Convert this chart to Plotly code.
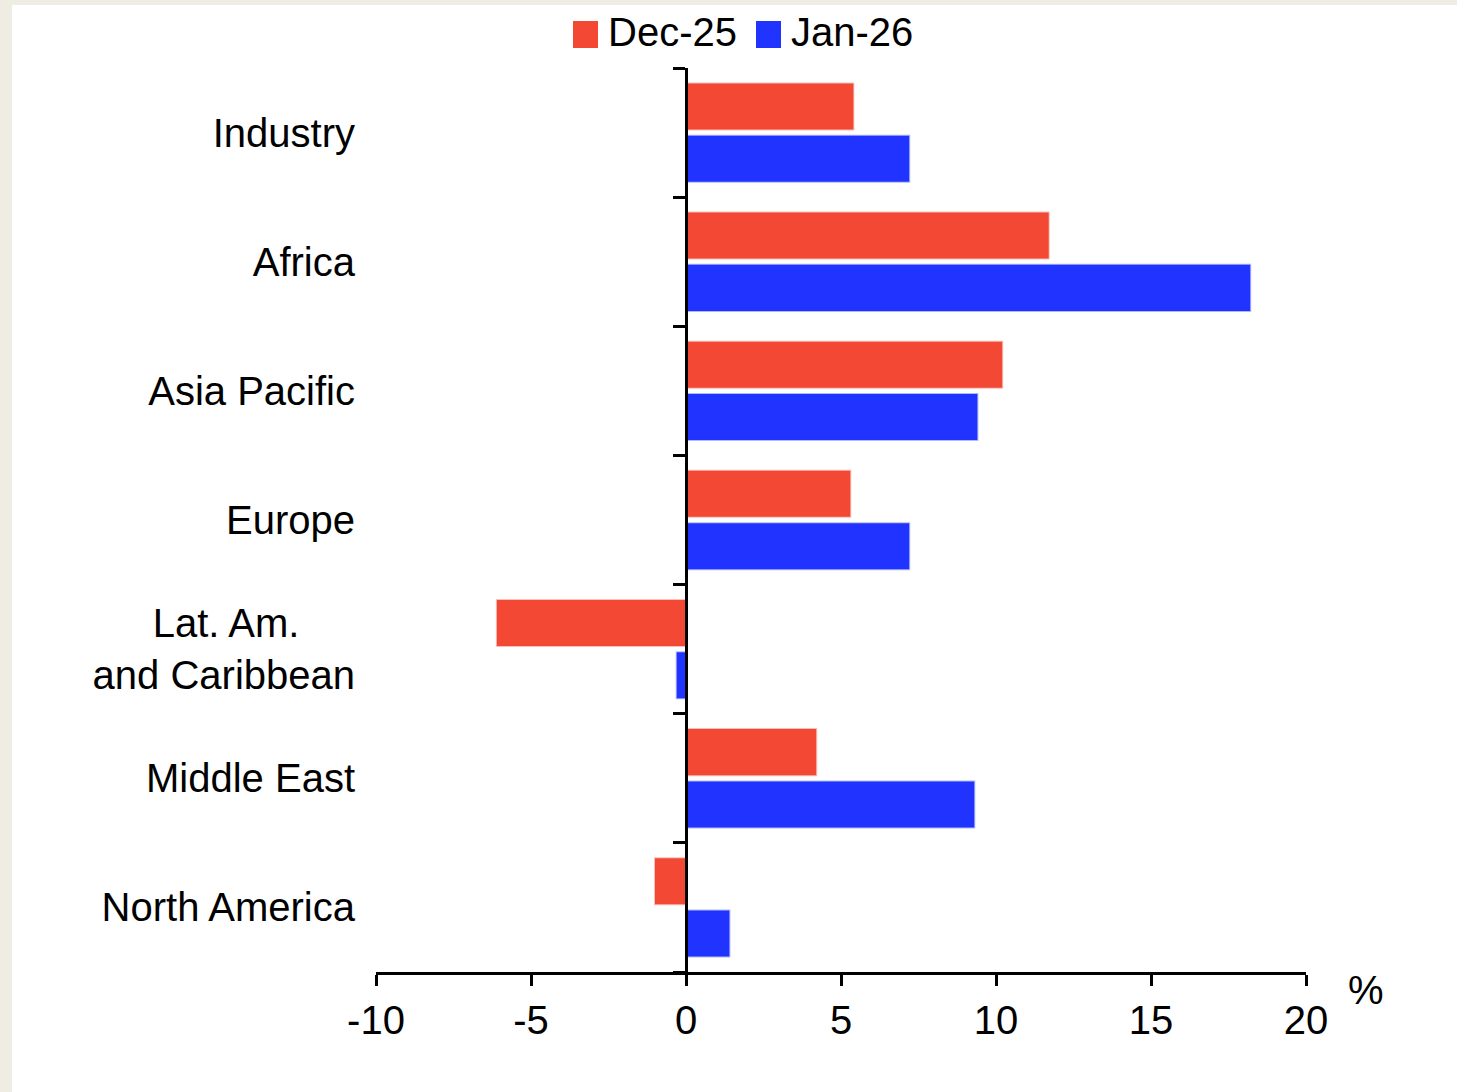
import plotly.graph_objects as go

categories = ["Industry", "Africa", "Asia Pacific", "Europe",
              "Lat. Am.\u00a0\u00a0\u00a0\u00a0\u00a0<br>and Caribbean", "Middle East", "North America"]
dec25 = [5.4, 11.7, 10.2, 5.3, -6.1, 4.2, -1.0]
jan26 = [7.2, 18.2, 9.4, 7.2, -0.3, 9.3, 1.4]
series_names = ["Dec-25", "Jan-26"]
x_ticks = [-10, -5, 0, 5, 10, 15, 20]
x_tick_text = ["-10", "-5", "0", "5", "10", "15", "20"]

RED = "#F24834"
BLUE = "#2033FF"
FONT = "Liberation Sans, Arial, sans-serif"

W, H = 1457, 1092
L, R, T, B = 376, 151, 68, 120
pw, ph = W - L - R, H - T - B


def px_x(px):
    return (px - L) / pw


def px_y(py):
    return (T + ph - py) / ph


fig = go.Figure()
fig.add_trace(go.Bar(y=categories, x=dec25, name=series_names[0], orientation="h",
                     marker=dict(color=RED, line=dict(color="rgba(242,72,52,0.35)", width=2)),
                     showlegend=False))
fig.add_trace(go.Bar(y=categories, x=jan26, name=series_names[1], orientation="h",
                     marker=dict(color=BLUE, line=dict(color="rgba(32,51,255,0.35)", width=2)),
                     showlegend=False))
# helper trace so the zero-line axis (y2) is drawn
fig.add_trace(go.Scatter(x=[0], y=[0], yaxis="y2", mode="markers",
                         marker=dict(opacity=0), showlegend=False, hoverinfo="skip"))

n = len(categories)
boundaries = [i - 0.5 for i in range(n + 1)]

fig.update_layout(
    width=W, height=H,
    margin=dict(l=L, r=R, t=T, b=B, autoexpand=False),
    paper_bgcolor="#EFECE4",
    plot_bgcolor="rgba(0,0,0,0)",
    font=dict(family=FONT, size=40, color="#000000"),
    barmode="group", bargap=0.19, bargroupgap=0.12,
    xaxis=dict(range=[-10, 20], tickvals=x_ticks, ticktext=x_tick_text,
               showgrid=False, zeroline=False,
               showline=True, linecolor="black", linewidth=3,
               ticks="outside", ticklen=11, tickwidth=3, tickcolor="black",
               tickfont=dict(size=40)),
    yaxis=dict(type="category", autorange="reversed", showgrid=False, zeroline=False,
               showline=False, ticks="", ticklabelstandoff=20,
               tickfont=dict(size=40)),
    yaxis2=dict(overlaying="y", anchor="free", position=1 / 3, side="left",
                range=[n - 0.5, -0.5], tickvals=boundaries, showticklabels=False,
                showline=True, linecolor="black", linewidth=3,
                ticks="outside", ticklen=12, tickwidth=3, tickcolor="black",
                showgrid=False, zeroline=False),
    showlegend=False,
)

# white page area (beige border on top and left)
fig.add_shape(type="rect", xref="paper", yref="paper", layer="below",
              x0=px_x(12), x1=px_x(W + 5), y0=px_y(H + 5), y1=px_y(5),
              fillcolor="white", line=dict(width=0))

# legend: coloured squares + labels
legend_items = [(series_names[0], RED, 573), (series_names[1], BLUE, 756)]
for name, col, x0 in legend_items:
    fig.add_shape(type="rect", xref="paper", yref="paper",
                  x0=px_x(x0), x1=px_x(x0 + 25), y0=px_y(48), y1=px_y(21),
                  fillcolor=col, line=dict(width=0))
    fig.add_annotation(text=name, xref="paper", yref="paper",
                       x=px_x(x0 + 33), y=px_y(32), xanchor="left", yanchor="middle",
                       showarrow=False, font=dict(size=40))

fig.add_annotation(text="%", xref="paper", yref="paper",
                   x=px_x(1366), y=px_y(990),
                   xanchor="center", yanchor="middle", showarrow=False,
                   font=dict(size=40))

fig.write_html("out.html", config={"displayModeBar": False},
               post_script="document.body.style.margin='0px';")
